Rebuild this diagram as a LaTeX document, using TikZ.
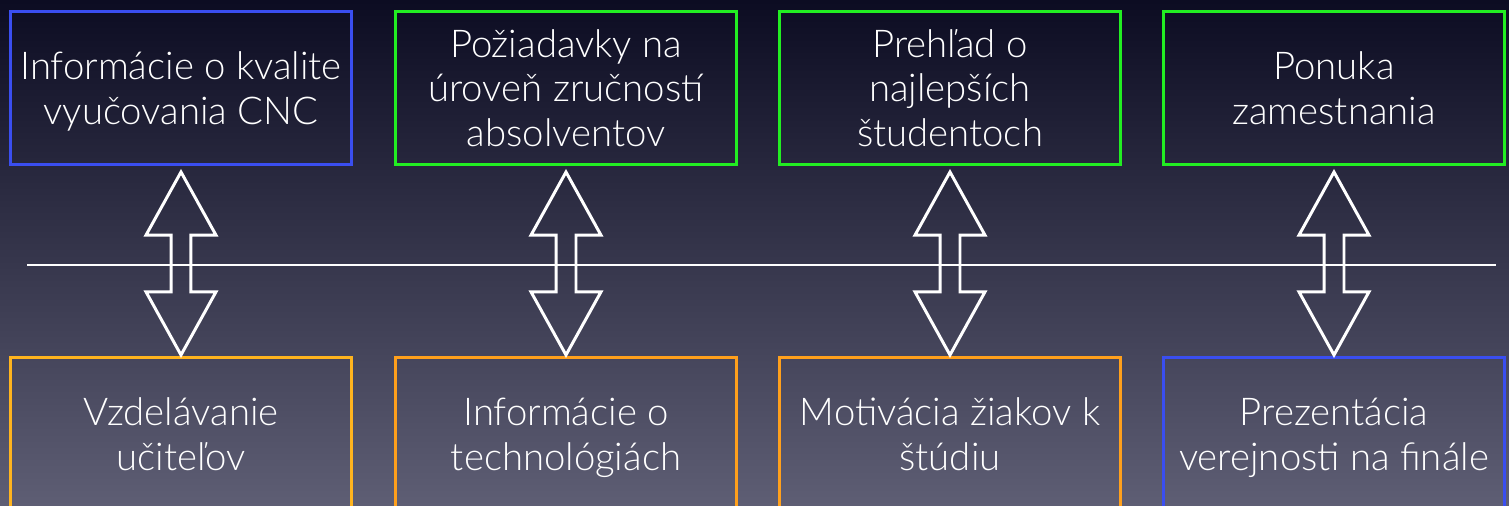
\documentclass[tikz,border=0pt]{standalone}
\usepackage{fontspec}
\setmainfont{Lato}[UprightFont=* Light]
\usetikzlibrary{shapes.arrows}
\definecolor{boxblue}{HTML}{3A4EF0}
\definecolor{boxgreen}{HTML}{22EE22}
\definecolor{boxorange}{HTML}{FFA01C}
\definecolor{boxyellow}{HTML}{FFB41E}
\definecolor{bgtop}{HTML}{0C0C22}
\definecolor{bgbottom}{HTML}{5E5E74}
\newcommand{\boxwidth}{6.82cm}
\newcommand{\boxheight}{3.06cm}

\begin{document}
\begin{tikzpicture}[x=0.02cm,y=-0.02cm,
        dblarrow/.style={shape=double arrow,draw=white,line width=1.7pt,
            shape border rotate=90,minimum height=3.66cm,minimum width=1.34cm,
            double arrow head extend=0.5cm,double arrow tip angle=58,inner sep=0.17cm}]
            \shade[top color=bgtop,bottom color=bgbottom] (0,0) rectangle (1509,506);
            \useasboundingbox (0,0) rectangle (1509,506);

            \begin{scope}[every node/.style={draw,line width=1.7pt,minimum width=\boxwidth,
                minimum height=\boxheight,align=center,text=white,
                font=\fontsize{21.8}{25.5}\selectfont,text depth=-2pt}]
                \node[draw=boxblue] (kvalita) at (181,88) {Informácie o kvalite\\vyučovania CNC};
                \node[draw=boxgreen] (poziadavky) at (566,88) {Požiadavky na\\úroveň zručností\\absolventov};
                \node[draw=boxgreen] (prehlad) at (950,88) {Prehľad o\\najlepších\\študentoch};
                \node[draw=boxgreen] (ponuka) at (1334,88) {Ponuka\\zamestnania};
                \node[draw=boxyellow] (vzdelavanie) at (181,434) {Vzdelávanie\\učiteľov};
                \node[draw=boxorange] (technologie) at (566,434) {Informácie o\\technológiách};
                \node[draw=boxorange] (motivacia) at (950,434) {Motivácia žiakov k\\štúdiu};
                \node[draw=boxblue] (prezentacia) at (1334,434) {Prezentácia\\verejnosti na finále};
            \end{scope}

            \coordinate (os-l) at (27,265);
            \coordinate (os-r) at (1496,265);
            \draw[white,line width=1.4pt] (os-l) -- (os-r);

            \path (kvalita.south) -- (vzdelavanie.north) node[midway,dblarrow,yshift=-0.05cm] {};
            \path (poziadavky.south) -- (technologie.north) node[midway,dblarrow,yshift=-0.05cm] {};
            \path (prehlad.south) -- (motivacia.north) node[midway,dblarrow,yshift=-0.05cm] {};
            \path (ponuka.south) -- (prezentacia.north) node[midway,dblarrow,yshift=-0.05cm] {};
            \end{tikzpicture}
\end{document}
